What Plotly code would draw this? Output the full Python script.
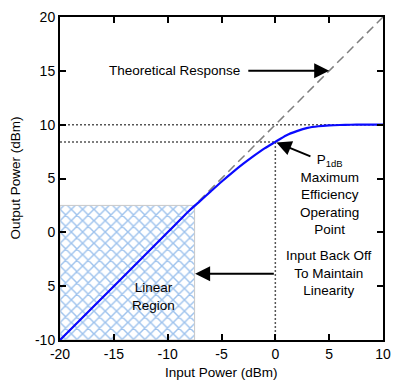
import plotly.graph_objects as go

# ---- data ----
input_power = [-20, -15, -10, -8, -7, -6, -5, -4, -3, -2, -1, 0, 1, 2, 3, 4, 5, 6, 7, 8, 10]
output_power = [-10, -5, 0, 2, 2.9, 3.8, 4.7, 5.55, 6.35, 7.1, 7.8, 8.4, 9.0, 9.4, 9.7, 9.85, 9.93, 9.97, 9.99, 10, 10]

theory_x = [-20, 10]
theory_y = [-10, 20]

linear_region_x = [-20, -7.5]
linear_region_y = [-10, 2.5]

p1db_in = 0
p1db_out = 8.4
psat = 10

x_tickvals = [-20, -15, -10, -5, 0, 5, 10]
x_ticktext = ["-20", "-15", "-10", "-5", "0", "5", "10"]
y_tickvals = [-10, -5, 0, 5, 10, 15, 20]
y_ticktext = ["-10", "5", "0", "5", "10", "15", "20"]

FONT = "Liberation Sans, Arial, sans-serif"
DOT = "2px,2px"

fig = go.Figure()

# hatched linear region
rx0, rx1 = linear_region_x
ry0, ry1 = linear_region_y
fig.add_trace(go.Scatter(
    x=[rx0, rx1, rx1, rx0, rx0], y=[ry0, ry0, ry1, ry1, ry0],
    mode="lines", fill="toself",
    fillcolor="rgba(0,0,0,0)",
    fillpattern=dict(shape="x", size=8, solidity=0.33, fgcolor="#3f88dc", bgcolor="white"),
    line=dict(color="#c8c8c8", width=1),
    hoverinfo="skip", showlegend=False))

# dotted guide lines
fig.add_trace(go.Scatter(x=[theory_x[0], theory_x[1]], y=[psat, psat], mode="lines",
                         line=dict(color="#555555", width=1.5, dash=DOT), showlegend=False))
fig.add_trace(go.Scatter(x=[theory_x[0], p1db_in], y=[p1db_out, p1db_out], mode="lines",
                         line=dict(color="#555555", width=1.5, dash=DOT), showlegend=False))
fig.add_trace(go.Scatter(x=[p1db_in, p1db_in], y=[theory_y[0], p1db_out], mode="lines",
                         line=dict(color="#555555", width=1.5, dash=DOT), showlegend=False))

# theoretical response
fig.add_trace(go.Scatter(x=theory_x, y=theory_y, mode="lines",
                         line=dict(color="#808080", width=1.5, dash="9px,5px"), showlegend=False))

# actual response
fig.add_trace(go.Scatter(x=input_power, y=output_power, mode="lines",
                         line=dict(color="#0a0aff", width=2.2, shape="spline", smoothing=0.6),
                         showlegend=False))

tf = dict(family=FONT, size=13.5, color="black")

annotations = [
    dict(x=-3.1, y=15, text="Theoretical Response", showarrow=False, xanchor="right",
         yanchor="middle", font=tf),
    dict(x=5, y=15, ax=-2.65, ay=15, axref="x", ayref="y", text="", showarrow=True,
         arrowhead=2, arrowsize=1.5, arrowwidth=2, arrowcolor="black"),
    dict(x=p1db_in + 0.1, y=p1db_out - 0.05, ax=3.4, ay=7.0, axref="x", ayref="y", text="",
         showarrow=True, arrowhead=2, arrowsize=1.5, arrowwidth=2, arrowcolor="black"),
    dict(x=5.0, y=3.5, text="P<sub>1dB</sub><br>Maximum<br>Efficiency<br>Operating<br>Point",
         showarrow=False, xanchor="center", yanchor="middle", font=tf, align="center"),
    dict(x=5.0, y=-3.8, text="Input Back Off<br>To Maintain<br>Linearity",
         showarrow=False, xanchor="center", yanchor="middle", font=tf, align="center"),
    dict(x=rx1 + 0.05, y=-3.85, ax=p1db_in, ay=-3.85, axref="x", ayref="y", text="",
         showarrow=True, arrowhead=2, arrowsize=1.5, arrowwidth=2, arrowcolor="black"),
    dict(x=-11.35, y=-6.0, text="Linear<br>Region", showarrow=False, xanchor="center",
         yanchor="middle", font=tf, align="center"),
    # axis titles
    dict(x=0.5, y=0, xref="paper", yref="paper", text="Input Power (dBm)", showarrow=False,
         xanchor="center", yanchor="middle", yshift=-32, font=tf),
    dict(x=0, y=0.5, xref="paper", yref="paper", text="Output Power (dBm)", showarrow=False,
         xanchor="center", yanchor="middle", xshift=-45, textangle=-90, font=tf),
]

axis_common = dict(showgrid=False, zeroline=False, showline=True, linecolor="black",
                   linewidth=2, mirror="ticks", ticks="inside", ticklen=6, tickwidth=2,
                   tickcolor="black", automargin=False,
                   tickfont=dict(family=FONT, size=14, color="black"))

# page body has an 8px default margin, so the figure is a little smaller
fig.update_layout(
    width=392, height=376,
    margin=dict(l=52, r=17, t=9, b=44),
    paper_bgcolor="white", plot_bgcolor="white",
    showlegend=False,
    annotations=annotations,
    xaxis=dict(range=[-20, 10], tickvals=x_tickvals, ticktext=x_ticktext, **axis_common),
    yaxis=dict(range=[-10, 20], tickvals=y_tickvals, ticktext=y_ticktext, **axis_common),
)

fig.write_html("out.html")
